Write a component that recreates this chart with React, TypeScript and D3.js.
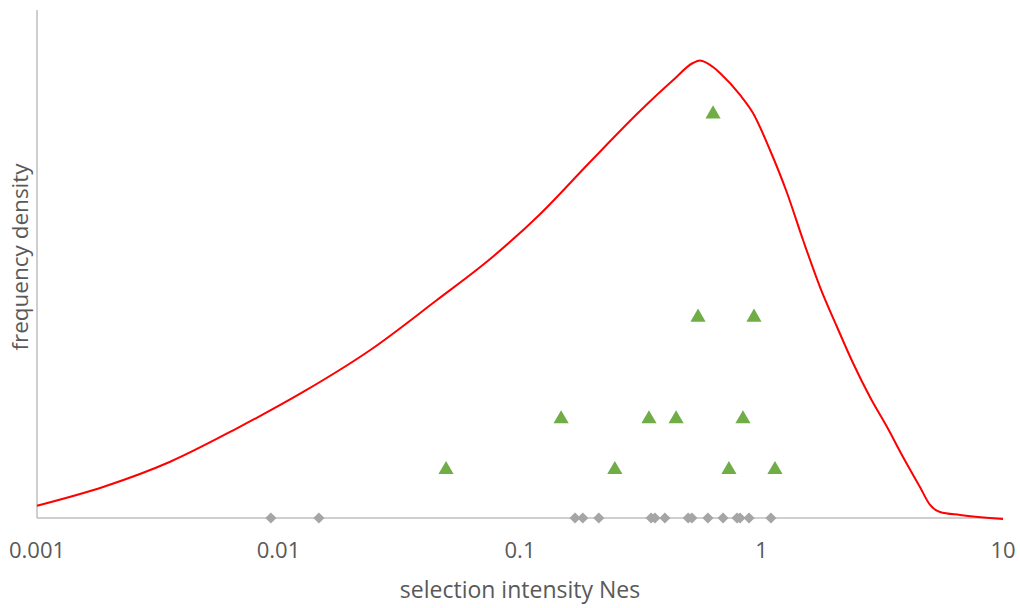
import React from 'react';
import * as d3 from 'd3';

// x ticks of the log axis
const tickValues = [0.001, 0.01, 0.1, 1, 10];
const tickLabels = ['0.001', '0.01', '0.1', '1', '10'];

// fitted density curve (Nes, density)
const curveNes = [0.001, 0.00189, 0.00356, 0.00673, 0.0127, 0.024, 0.0453, 0.0752, 0.121, 0.195, 0.314, 0.431, 0.52, 0.556, 0.63, 0.673, 0.815, 0.922, 1.084, 1.276, 1.486, 1.747, 2.055, 2.393, 2.812, 3.311, 3.855, 4.53, 4.99, 5.48, 6.64, 10];
const curveDensity = [0.242, 0.616, 1.108, 1.766, 2.486, 3.307, 4.291, 5.098, 5.98, 7.008, 8.012, 8.622, 8.957, 9.006, 8.878, 8.76, 8.327, 7.972, 7.244, 6.398, 5.472, 4.547, 3.76, 3.051, 2.382, 1.791, 1.201, 0.61, 0.256, 0.118, 0.059, -0.02];

// observed estimates (green triangles)
const obsNes = [0.0494, 0.148, 0.247, 0.342, 0.443, 0.546, 0.63, 0.733, 0.838, 0.931, 1.137];
const obsCount = [1, 2, 1, 2, 2, 4, 8, 1, 2, 4, 1];

// individual estimates on the axis (grey diamonds)
const pointNes = [0.0093, 0.0147, 0.169, 0.182, 0.212, 0.349, 0.362, 0.398, 0.497, 0.515, 0.6, 0.693, 0.792, 0.815, 0.888, 1.094];

const W = 1020;
const H = 608;
const left = 37, right = 1003, top = 10, bottom = 518;
const font = '"Open Sans", sans-serif';
const textColor = '#595959';

export default function App() {
  const x = d3.scaleLog().domain([0.001, 10]).range([left, right]);
  const y = d3.scaleLinear().domain([0, 10]).range([bottom, top]);

  const line = d3.line<number>()
    .x((d, i) => x(curveNes[i]))
    .y((d) => y(d))
    .curve(d3.curveMonotoneX);

  const tri = d3.symbol().type(d3.symbolTriangle).size(100);
  const diamond = d3.symbol().type(d3.symbolSquare).size(62);

  return (
    <svg width={W} height={H} style={{ position: 'absolute', left: 0, top: 0 }}>
      <rect width={W} height={H} fill="#fff" />
      {/* axes */}
      <line x1={left} x2={left} y1={top} y2={bottom} stroke="#bfbfbf" strokeWidth={1.5} />
      <line x1={left} x2={right} y1={bottom} y2={bottom} stroke="#bfbfbf" strokeWidth={1.5} />

      {tickValues.map((t, i) => (
        <text key={t} x={x(t)} y={558} textAnchor="middle" fontFamily={font} fontSize={22} fill={textColor}>
          {tickLabels[i]}
        </text>
      ))}
      <text x={(left + right) / 2} y={598} textAnchor="middle" fontFamily={font} fontSize={23} fill={textColor}>
        selection intensity Nes
      </text>
      <text transform="translate(28,257) rotate(-90)" textAnchor="middle" fontFamily={font} fontSize={22.5} fill={textColor}>
        frequency density
      </text>

      <path d={line(curveDensity) || ''} fill="none" stroke="#ff0000" strokeWidth={2} />

      {pointNes.map((v, i) => (
        <path key={'d' + i} d={diamond() || ''} transform={`translate(${x(v)},${y(0)}) rotate(45)`} fill="#a5a5a5" />
      ))}
      {obsNes.map((v, i) => (
        <path key={'t' + i} d={tri() || ''} transform={`translate(${x(v)},${y(obsCount[i]) + 2.5})`} fill="#70ad47" />
      ))}
    </svg>
  );
}
